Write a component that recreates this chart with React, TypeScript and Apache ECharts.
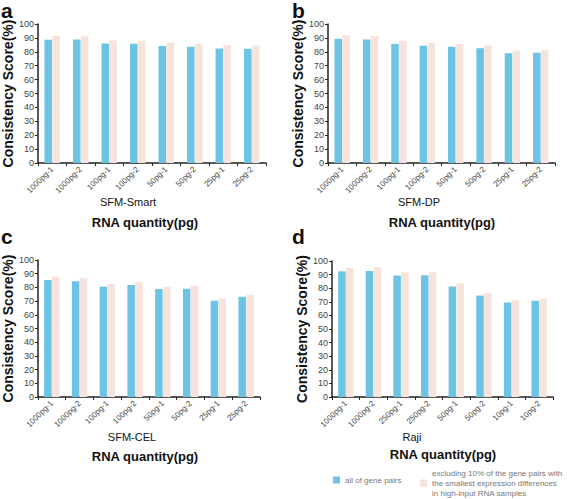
import React, { useEffect, useRef } from "react";
import * as echarts from "echarts";

const catsA = ["1000pg-1", "1000pg-2", "100pg-1", "100pg-2", "50pg-1", "50pg-2", "25pg-1", "25pg-2"];
const catsB = ["1000pg-1", "1000pg-2", "100pg-1", "100pg-2", "50pg-1", "50pg-2", "25pg-1", "25pg-2"];
const catsC = ["1000pg-1", "1000pg-2", "100pg-1", "100pg-2", "50pg-1", "50pg-2", "25pg-1", "25pg-2"];
const catsD = ["1000pg-1", "1000pg-2", "250pg-1", "250pg-2", "50pg-1", "50pg-2", "10pg-1", "10pg-2"];

const allA = [88.7, 88.8, 86.0, 85.8, 84.2, 83.6, 82.4, 82.2];
const exclA = [91.6, 91.6, 88.2, 88.0, 86.6, 86.0, 84.7, 84.4];
const allB = [89.3, 88.8, 85.7, 84.3, 83.6, 82.6, 79.0, 79.3];
const exclB = [92.1, 91.4, 87.9, 86.2, 85.7, 84.8, 80.9, 81.2];
const allC = [85.4, 84.4, 80.5, 81.7, 78.8, 79.0, 70.2, 73.2];
const exclC = [87.8, 86.6, 82.7, 83.9, 80.5, 81.2, 71.7, 74.6];
const allD = [92.4, 92.7, 89.3, 89.5, 81.2, 74.6, 69.5, 70.7];
const exclD = [94.9, 95.4, 91.7, 92.0, 83.7, 76.6, 71.2, 72.2];

const yTicks = { min: 0, max: 100, interval: 10 };
const panelLetters = ["a", "b", "c", "d"];
const subtitles = ["SFM-Smart", "SFM-DP", "SFM-CEL", "Raji"];
const xTitle = "RNA quantity(pg)";
const yTitle = "Consistency Score(%)";
const nameAll = "all of gene pairs";
const nameExcl =
  "excluding 10% of the gene pairs with\nthe smallest expression differences\nin high-input RNA samples";

const BLUE = "#6cc3e4";
const PINK = "#f5e3dc";
const FONT = "Liberation Sans, Arial, Helvetica, sans-serif";

export default function App() {
  const ref = useRef<HTMLDivElement>(null);
  useEffect(() => {
    if (!ref.current) return;
    const chart = echarts.init(ref.current, undefined, { renderer: "svg" });
    const grids = [
      { left: 36, top: 24, width: 230, height: 139 },
      { left: 328, top: 24, width: 227, height: 139 },
      { left: 36, top: 260, width: 224, height: 137 },
      { left: 332, top: 261, width: 221, height: 136 },
    ];
    const cats = [catsA, catsB, catsC, catsD];
    const alls = [allA, allB, allC, allD];
    const excls = [exclA, exclB, exclC, exclD];
    const nameGaps = [19, 15, 18, 19];

    const xAxis = cats.map((c, i) => ({
      type: "category",
      gridIndex: i,
      data: c,
      boundaryGap: true,
      axisLine: { lineStyle: { color: "#222", width: 1.5 } },
      axisTick: { show: true, alignWithLabel: false, length: 3, lineStyle: { color: "#222" } },
      axisLabel: {
        rotate: 45,
        interval: 0,
        fontSize: 8,
        color: "#444",
        fontFamily: FONT,
        margin: 5,
      },
    }));
    const yAxis = cats.map((_, i) => ({
      type: "value",
      gridIndex: i,
      min: yTicks.min,
      max: yTicks.max,
      interval: yTicks.interval,
      name: yTitle,
      nameLocation: "middle",
      nameRotate: 90,
      nameGap: nameGaps[i],
      nameTextStyle: { fontSize: 14, fontWeight: "bold", color: "#111", fontFamily: FONT },
      axisLine: { show: true, lineStyle: { color: "#222", width: 1.5 } },
      axisTick: { show: true, length: 3, lineStyle: { color: "#222" } },
      splitLine: { show: false },
      axisLabel: { fontSize: 9, color: "#444", fontFamily: FONT, margin: 4 },
    }));
    const series: any[] = [];
    cats.forEach((_, i) => {
      series.push({
        type: "bar",
        name: nameAll,
        xAxisIndex: i,
        yAxisIndex: i,
        data: alls[i],
        barWidth: 7.5,
        barGap: "5%",
        itemStyle: { color: BLUE },
      });
      series.push({
        type: "bar",
        name: nameExcl,
        xAxisIndex: i,
        yAxisIndex: i,
        data: excls[i],
        barWidth: 7.5,
        barGap: "5%",
        itemStyle: { color: PINK },
      });
    });

    const letterPos = [
      [1, 0],
      [292, 0],
      [1, 226],
      [292, 226],
    ];
    const subPos = [
      [128, 202],
      [419, 202],
      [132, 437],
      [412, 437],
    ];
    const titlePos = [
      [145, 222],
      [442, 222],
      [145, 456],
      [443, 454],
    ];
    const graphic: any[] = [];
    panelLetters.forEach((l, i) => {
      graphic.push({
        type: "text",
        x: letterPos[i][0],
        y: letterPos[i][1],
        style: { text: l, fontSize: 21, fontWeight: "bold", fill: "#111", fontFamily: FONT },
      });
      graphic.push({
        type: "text",
        x: subPos[i][0],
        y: subPos[i][1],
        style: {
          text: subtitles[i],
          fontSize: 11,
          fill: "#111",
          fontFamily: FONT,
          align: "center",
          verticalAlign: "middle",
        },
      });
      graphic.push({
        type: "text",
        x: titlePos[i][0],
        y: titlePos[i][1],
        style: {
          text: xTitle,
          fontSize: 13,
          fontWeight: "bold",
          fill: "#111",
          fontFamily: FONT,
          align: "center",
          verticalAlign: "middle",
        },
      });
    });

    chart.setOption({
      animation: false,
      textStyle: { fontFamily: FONT },
      grid: grids,
      xAxis,
      yAxis,
      series,
      graphic,
      legend: [
        {
          left: 333,
          top: 476,
          data: [nameAll],
          icon: "rect",
          itemWidth: 7,
          itemHeight: 7,
          itemGap: 0,
          padding: 0,
          textStyle: { fontSize: 8, color: "#777", fontFamily: FONT },
          selectedMode: false,
        },
        {
          left: 420,
          top: 468,
          data: [nameExcl],
          icon: "rect",
          itemWidth: 7,
          itemHeight: 7,
          padding: 0,
          textStyle: { fontSize: 8, color: "#777", fontFamily: FONT, lineHeight: 10 },
          selectedMode: false,
        },
      ],
    });
    return () => chart.dispose();
  }, []);
  return (
    <div
      ref={ref}
      style={{ position: "absolute", left: 0, top: 0, width: 567, height: 499, background: "#fff" }}
    />
  );
}
